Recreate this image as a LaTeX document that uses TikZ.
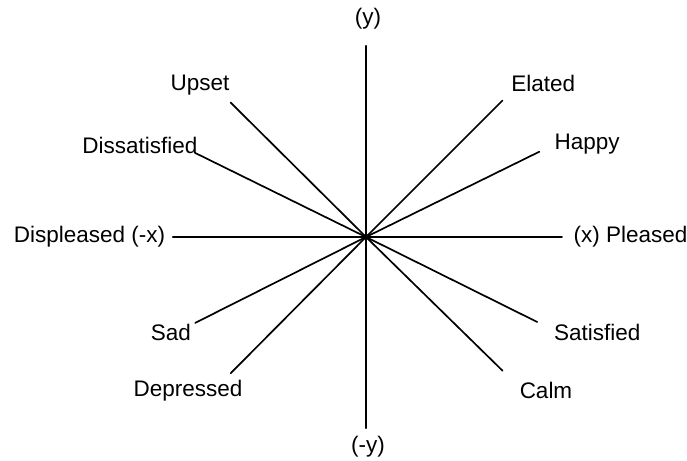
\documentclass[tikz,border=0pt]{standalone}
\usepackage{fontspec}
\setmainfont{Liberation Sans}
\usetikzlibrary{positioning}

\begin{document}
\begin{tikzpicture}[
    spoke/.style={line width=1.2pt, line cap=round},
    lbl/.style={inner sep=1pt},
    every node/.style={font=\fontsize{16}{19}\selectfont}
  ]
  \useasboundingbox (-9.15,-5.6) rectangle (8.025,5.925);

  % Origin and spoke ends
  \coordinate (o) at (0,0);
  \coordinate (ypos) at (90:4.78);
  \coordinate (yneg) at (-90:4.78);
  \coordinate (xpos) at (0:4.9);
  \coordinate (xneg) at (180:4.83);
  \coordinate (elated) at (45:4.83);
  \coordinate (happy) at (26.2:4.83);
  \coordinate (upset) at (135.2:4.77);
  \coordinate (dissat) at (153.8:4.77);
  \coordinate (sad) at (206.7:4.78);
  \coordinate (depr) at (225.2:4.8);
  \coordinate (satis) at (333.6:4.78);
  \coordinate (calm) at (315.6:4.78);

  % Axes
  \draw[spoke] (xneg) -- (xpos);
  \draw[spoke] (yneg) -- (ypos);

  % Spokes
  \draw[spoke] (o) -- (elated);
  \draw[spoke] (o) -- (happy);
  \draw[spoke] (o) -- (upset);
  \draw[spoke] (o) -- (dissat);
  \draw[spoke] (o) -- (sad);
  \draw[spoke] (o) -- (depr);
  \draw[spoke] (o) -- (satis);
  \draw[spoke] (o) -- (calm);
  \fill (o) circle (2.2pt);

  % Labels
  \node[lbl] (ly) at (0.05,5.45) {(y)};
  \node[lbl] (lny) at (0.05,-5.25) {(-y)};
  \node[lbl, left=0.15 of xneg] (lnx) {Displeased (-x)};
  \node[lbl, right=0.25 of xpos] (lx) {(x) Pleased};
  \node[lbl] (lupset) at (-4.15,3.8) {Upset};
  \node[lbl] (lelated) at (4.43,3.85) {Elated};
  \node[lbl] (ldissat) at (-5.65,2.28) {Dissatisfied};
  \node[lbl] (lhappy) at (5.53,2.33) {Happy};
  \node[lbl] (lsad) at (-4.88,-2.38) {Sad};
  \node[lbl] (lsatis) at (5.78,-2.38) {Satisfied};
  \node[lbl] (ldepr) at (-4.45,-3.83) {Depressed};
  \node[lbl] (lcalm) at (4.5,-3.83) {Calm};
\end{tikzpicture}
\end{document}
